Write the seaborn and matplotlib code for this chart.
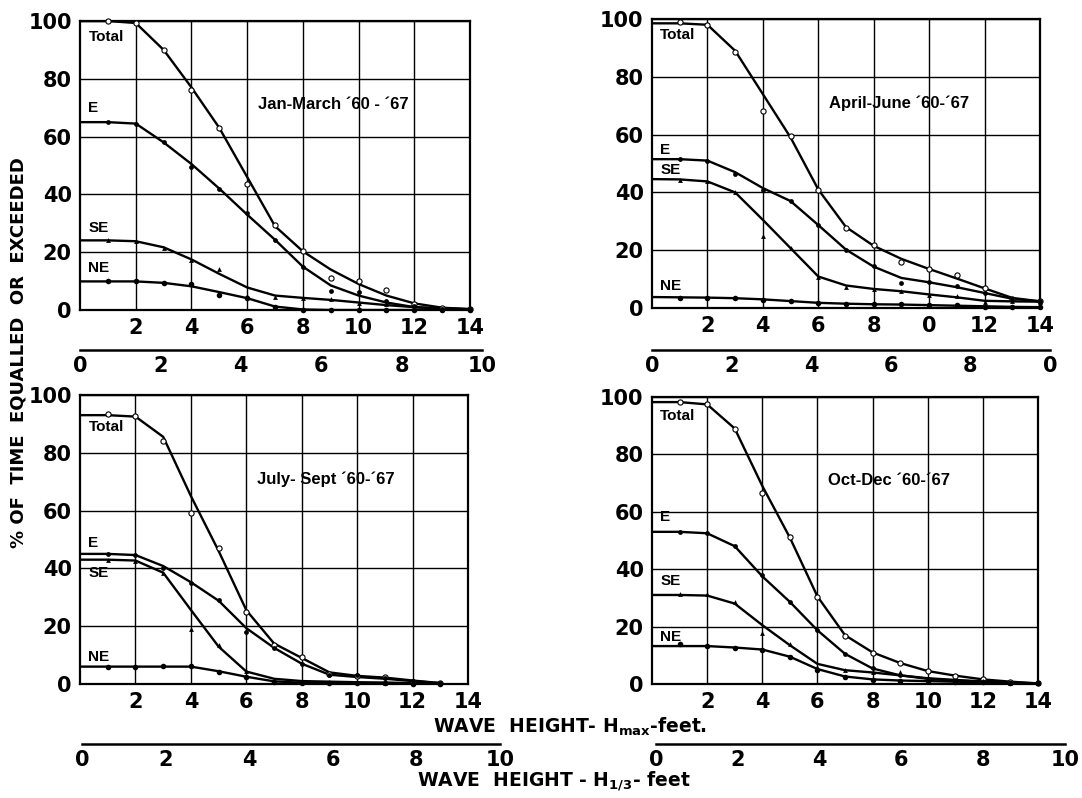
import matplotlib
matplotlib.use("Agg")
import matplotlib.pyplot as plt
import seaborn as sns

# wave height Hmax (feet), 0..14
# Jan-March '60-'67
jm_total_line = [100, 100, 99.3, 90, 77, 63, 46, 29, 20.3, 14, 9, 5, 2.3, 0.8, 0.3]
jm_total_pts = [100, 99.3, 89.8, 76, 63, 43.6, 29.3, 20.3, 11, 10, 6.9, 2, 0.6, 0.3]
jm_e_line = [65, 65, 64.5, 58, 50.5, 42, 33, 24.3, 15, 8.5, 5, 2.6, 1, 0.5, 0.3]
jm_e_pts = [65, 64.5, 58, 49.4, 42, 33.5, 24.3, 14.8, 6.6, 6.2, 3, 1.5, 0.5, 0.3]
jm_se_line = [24.1, 24.1, 23.8, 21.7, 17.5, 12.5, 7.8, 5, 4.2, 3.5, 2.6, 1.7, 1, 0.5, 0.3]
jm_se_pts = [24.3, 24, 21.5, 17.3, 14.3, 5, 4.5, 4.3, 3.7, 2.5, 2, 1, 0.5, 0.3]
jm_ne_line = [9.9, 9.9, 9.9, 9.4, 8.2, 6.2, 4.1, 1.2, 0.2, 0, 0, 0, 0, 0, 0]
jm_ne_pts = [9.9, 10, 9.4, 9, 5.3, 4, 1, 0, 0, 0, 0, 0, 0, 0]

# April-June '60-'67
aj_total_line = [98.5, 98.5, 98, 89, 74, 59, 41, 28, 21.5, 17, 13.5, 10.2, 6.8, 3.5, 2.3]
aj_total_pts = [98.8, 98, 88.7, 68.2, 59.4, 40.9, 27.6, 21.8, 16, 13.4, 11.4, 7, 3, 2.3]
aj_e_line = [51.5, 51.5, 51, 47, 41.5, 37, 28.7, 20.2, 14.3, 10.4, 8.9, 7.2, 5.2, 3.2, 2.3]
aj_e_pts = [51.6, 51, 46.4, 41, 37.1, 28.7, 20.2, 14.4, 8.6, 9, 7.5, 5.2, 3.2, 2.3]
aj_se_line = [44.6, 44.5, 43.8, 40, 30.5, 20.7, 10.9, 7.8, 6.6, 5.8, 4.7, 3.7, 2.5, 2.3, 2.2]
aj_se_pts = [44.4, 44, 40, 25, 20.9, 10.9, 7.3, 6.6, 6, 4.6, 4.3, 2.2, 2.3, 2.2]
aj_ne_line = [3.8, 3.7, 3.6, 3.4, 3.0, 2.4, 1.8, 1.5, 1.3, 1.2, 1.0, 0.8, 0.6, 0.4, 0.3]
aj_ne_pts = [3.5, 3.5, 3.3, 2.9, 2.3, 1.7, 1.5, 1.5, 1.3, 1.2, 1, 0.4, 0.3, 0.3]

# July-Sept '60-'67 (curves stop at 13 ft)
js_total_line = [93, 93, 92.5, 85.5, 65, 46, 25.5, 14, 9, 4, 2.8, 2.2, 1.2, 0.3]
js_total_pts = [93.4, 92.7, 84, 59.2, 47, 25, 13.5, 9.2, 3.5, 2.8, 2.5, 0.8, 0.2]
js_e_line = [45, 45, 44.6, 40.8, 35.2, 28.8, 19.3, 12.5, 7, 3.2, 2.4, 1.8, 1, 0.3]
js_e_pts = [45, 44.6, 40, 35, 29, 18, 12.5, 7, 3, 3.1, 2, 1, 0.3]
js_se_line = [43, 43, 42.7, 38.5, 25.6, 12.9, 4.3, 1.8, 1, 0.8, 0.6, 0.5, 0.3, 0.2]
js_se_pts = [43, 42.7, 38.3, 19, 13.5, 4.5, 1.5, 1, 0.8, 0.6, 0.5, 0.3, 0.2]
js_ne_line = [6, 6, 6, 6, 6, 4.4, 2.5, 0.9, 0.4, 0.3, 0.2, 0.2, 0.1, 0.1]
js_ne_pts = [5.7, 5.7, 6.2, 6.2, 4.2, 2.4, 0.8, 0.3, 0.2, 0.2, 0.2, 0.1, 0.1]

# Oct-Dec '60-'67
od_total_line = [98.2, 98.2, 97.4, 89, 69, 51, 30.5, 17, 11, 7.3, 4.5, 2.9, 1.6, 0.8, 0.2]
od_total_pts = [98.2, 97.4, 88.7, 66.7, 51.1, 30.3, 16.6, 10.9, 7.2, 4.5, 2.8, 1.6, 0.8, 0.2]
od_e_line = [53, 53, 52.5, 48, 37.5, 28.6, 18.7, 10.5, 5.4, 3, 1.8, 1.2, 0.8, 0.4, 0.2]
od_e_pts = [52.8, 52.5, 48, 38, 28.6, 18.7, 10.4, 5.4, 3, 1.8, 1.2, 0.8, 0.4, 0.2]
od_se_line = [31, 31, 30.8, 28, 20.5, 13.5, 7, 4.8, 4, 3, 2, 1.4, 0.9, 0.5, 0.2]
od_se_pts = [31.4, 31.2, 28.6, 17.9, 13.9, 6, 4.8, 4.2, 4, 2, 1.4, 1, 0.5, 0.2]
od_ne_line = [13.2, 13.2, 13.2, 12.7, 12, 9.5, 5.2, 2.6, 1.6, 1.2, 1, 0.8, 0.6, 0.3, 0.2]
od_ne_pts = [14, 13.4, 12.7, 11.9, 9.3, 4.8, 2.4, 1.5, 1.2, 1, 0.8, 0.6, 0.3, 0.2]

series_names = ["Total", "E", "SE", "NE"]
hmax_ticks = [2, 4, 6, 8, 10, 12, 14]
pct_ticks = [0, 20, 40, 60, 80, 100]
h13_ticks = [0, 2, 4, 6, 8, 10]

sns.set_style("white")
plt.rcParams['font.family'] = ['Liberation Sans', 'DejaVu Sans']
plt.rcParams['font.weight'] = 'bold'
plt.rcParams['mathtext.fontset'] = 'dejavusans'
plt.rcParams['text.color'] = 'black'
plt.rcParams['xtick.color'] = 'black'
plt.rcParams['ytick.color'] = 'black'
plt.rcParams['axes.labelcolor'] = 'black'

TICKFONT = dict(family="DejaVu Sans", weight="bold", size=15, color="black")

fig = plt.figure(figsize=(10.82, 7.98), dpi=100)

panels = [
    dict(rect=[0.074, 0.6115, 0.3604, 0.3622], sec=[0.074, 0.5614, 0.3715],
         title="Jan-March \u00b460 - \u00b467",
         lines=[jm_total_line, jm_e_line, jm_se_line, jm_ne_line],
         pts=[jm_total_pts, jm_e_pts, jm_se_pts, jm_ne_pts],
         laby=[94.5, 70, 28.4, 14.5],
         xlab=["2", "4", "6", "8", "10", "12", "14"], seclab=["0", "2", "4", "6", "8", "10"]),
    dict(rect=[0.6026, 0.614, 0.3586, 0.3622], sec=[0.6026, 0.5614, 0.3678],
         title="April-June \u00b460-\u00b467",
         lines=[aj_total_line, aj_e_line, aj_se_line, aj_ne_line],
         pts=[aj_total_pts, aj_e_pts, aj_se_pts, aj_ne_pts],
         laby=[94.5, 54.7, 47.8, 7.5],
         xlab=["2", "4", "6", "8", "0", "12", "14"], seclab=["0", "2", "4", "6", "8", "0"]),
    dict(rect=[0.074, 0.1429, 0.3586, 0.3622], sec=[0.0758, 0.0677, 0.3863],
         title="July- Sept \u00b460-\u00b467",
         lines=[js_total_line, js_e_line, js_se_line, js_ne_line],
         pts=[js_total_pts, js_e_pts, js_se_pts, js_ne_pts],
         laby=[89, 48.7, 38.3, 9.5],
         xlab=["2", "4", "6", "8", "10", "12", "14"], seclab=["0", "2", "4", "6", "8", "10"]),
    dict(rect=[0.6026, 0.1429, 0.3567, 0.3597], sec=[0.6063, 0.0677, 0.3780],
         title="Oct-Dec \u00b460-\u00b467",
         lines=[od_total_line, od_e_line, od_se_line, od_ne_line],
         pts=[od_total_pts, od_e_pts, od_se_pts, od_ne_pts],
         laby=[93.3, 58, 35.9, 16.4],
         xlab=["2", "4", "6", "8", "10", "12", "14"], seclab=["0", "2", "4", "6", "8", "10"]),
]

marker_style = {
    "Total": dict(marker="o", facecolor="white", edgecolor="black", s=14, linewidth=0.8),
    "E": dict(marker="o", color="black", s=12, linewidth=0),
    "SE": dict(marker="^", color="black", s=12, linewidth=0),
    "NE": dict(marker="o", color="black", s=16, linewidth=0),
}

for p in panels:
    ax = fig.add_axes(p["rect"])
    for name, line, pts in zip(series_names, p["lines"], p["pts"]):
        sns.lineplot(x=list(range(len(line))), y=line, ax=ax, color="black",
                     lw=1.7, estimator=None, sort=False)
        sns.scatterplot(x=list(range(1, len(pts) + 1)), y=pts, ax=ax,
                        zorder=5, clip_on=False, **marker_style[name])
    for name, ly in zip(series_names, p["laby"]):
        ax.text(0.3, ly, name, fontsize=11, fontweight="bold", va="center", ha="left")
    ax.text(6.4, 71, p["title"], fontsize=12, fontweight="bold", va="center", ha="left")

    ax.set_xlim(0, 14)
    ax.set_ylim(0, 100)
    ax.set_xticks(hmax_ticks)
    ax.set_xticklabels(p["xlab"], fontdict=TICKFONT)
    ax.set_yticks(pct_ticks)
    ax.set_yticklabels([str(t) for t in pct_ticks], fontdict=TICKFONT)
    ax.grid(True, color="black", lw=1)
    ax.tick_params(length=0, pad=6)
    for s in ax.spines.values():
        s.set_color("black")
        s.set_linewidth(1.6)
    ax.set_xlabel("")
    ax.set_ylabel("")

    # second scale: significant wave height H1/3
    l, b, w = p["sec"]
    sax = fig.add_axes([l, b, w, 0.0001])
    sax.set_xlim(0, 10)
    sax.set_yticks([])
    sax.set_xticks(h13_ticks)
    sax.set_xticklabels(p["seclab"], fontdict=TICKFONT)
    for side in ["left", "right", "top"]:
        sax.spines[side].set_visible(False)
    sax.spines["bottom"].set_linewidth(1.8)
    sax.spines["bottom"].set_color("black")
    sax.tick_params(axis="x", direction="in", length=5, width=1.5, pad=4, color="black")
    sax.patch.set_visible(False)

fig.text(0.017, 0.558, "% OF  TIME  EQUALLED  OR  EXCEEDED", rotation=90,
         family="DejaVu Sans", fontsize=13, fontweight="bold", ha="center", va="center")
fig.text(0.527, 0.089, r"WAVE  HEIGHT- H$_{\mathbf{max}}$-feet.", family="DejaVu Sans",
         fontsize=13.5, fontweight="bold", ha="center", va="center")
fig.text(0.512, 0.021, r"WAVE  HEIGHT - H$_{\mathbf{1/3}}$- feet", family="DejaVu Sans",
         fontsize=13.5, fontweight="bold", ha="center", va="center")

fig.savefig("out.png", dpi=100)
